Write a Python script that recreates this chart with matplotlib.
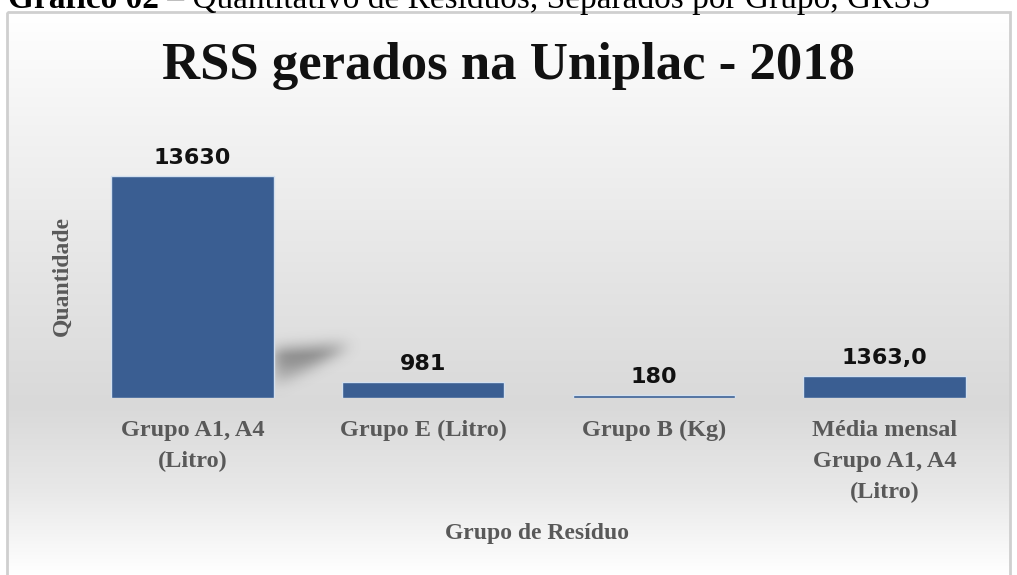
import numpy as np
import matplotlib
matplotlib.use("Agg")
import matplotlib.pyplot as plt
from matplotlib.patches import Rectangle
from matplotlib.path import Path
from matplotlib.colors import LinearSegmentedColormap

# dados do gráfico
grupos = ["Grupo A1, A4\n(Litro)", "Grupo E (Litro)", "Grupo B (Kg)",
          "Média mensal\nGrupo A1, A4\n(Litro)"]
quantidades = [13630, 981, 180, 1363.0]
rotulos = ["13630", "981", "180", "1363,0"]

serif = ["Liberation Serif", "DejaVu Serif"]
cinza = "#595959"
largura = 0.705

fig = plt.figure(figsize=(10.17, 5.75), dpi=100)

# fundo com degradê (estilo Excel)
bg = fig.add_axes([0, 0, 1, 1], zorder=0)
bg.set_xlim(0, 1017)
bg.set_ylim(575, 0)
bg.axis("off")
cmap_bg = LinearSegmentedColormap.from_list(
    "bg", [(0, "#ffffff"), (0.2, "#f3f3f3"), (0.5, "#e3e3e3"),
           (0.7, "#d9d9d9"), (0.85, "#e8e8e8"), (1, "#ffffff")])
grad = np.linspace(0, 1, 256).reshape(-1, 1)
bg.imshow(grad, cmap=cmap_bg, extent=(7, 1010, 575, 12), aspect="auto")
bg.add_patch(Rectangle((7, 12), 1003, 570, fill=False, edgecolor="#cfcfcf", lw=2))

# legenda do documento (cortada no topo)
t1 = fig.text(8 / 1017, 1 - 8 / 575, "Gráfico 02", family=serif, weight="bold",
              fontsize=24, va="baseline", ha="left")
r = fig.canvas.get_renderer()
bb = t1.get_window_extent(r)
fig.text(bb.x1 / 1017, 1 - 8 / 575,
         " – Quantitativo de Resíduos, Separados por Grupo, GRSS",
         family=serif, fontsize=24, va="baseline", ha="left")

ax = fig.add_axes([77 / 1017, 177 / 575, 923 / 1017, 277 / 575], zorder=1)
ax.patch.set_alpha(0)
x = np.arange(len(grupos))

# sombra suave atrás da primeira barra
xr = x[0] + largura / 2
gx = np.linspace(xr - 0.1, xr + 0.6, 160)
gy = np.linspace(-800, 4800, 90)
GX, GY = np.meshgrid(gx, gy)
tri = Path([(xr, 2950), (xr + 0.33, 3250), (xr, 400)])
mask = tri.contains_points(np.c_[GX.ravel(), GY.ravel()]).reshape(GX.shape).astype(float)
k = np.exp(-0.5 * (np.arange(-20, 21) / 7.0) ** 2)
k /= k.sum()
mask = np.apply_along_axis(lambda v: np.convolve(v, k, mode="same"), 1, mask)
mask = np.apply_along_axis(lambda v: np.convolve(v, k, mode="same"), 0, mask)
peso = np.clip(GY / 2600, 0.15, 1.0)
sombra = np.zeros(mask.shape + (4,))
sombra[..., :3] = 0.3
sombra[..., 3] = np.clip(mask * peso * 0.6, 0, 1)
ax.imshow(sombra, extent=(gx[0], gx[-1], gy[0], gy[-1]), origin="lower",
          aspect="auto", zorder=1, interpolation="bilinear")

ax.bar(x, quantidades, width=largura, color="#3a5e92", edgecolor="#d3e0ef",
       linewidth=1, zorder=2)
for xi, v, s in zip(x, quantidades, rotulos):
    ax.text(xi, v + 500, s, ha="center", va="bottom", fontsize=16,
            weight="bold", color="#111111", family="DejaVu Sans")

ax.set_xlim(-0.5, len(grupos) - 0.5)
ax.set_ylim(0, 17000)
ax.set_yticks([])
ax.set_xticks(x)
ax.set_xticklabels(grupos, family=serif, weight="bold", fontsize=17.5,
                   color=cinza, linespacing=1.6)
ax.tick_params(axis="x", length=0, pad=16)
for s in ax.spines.values():
    s.set_visible(False)

ax.set_xlabel("Grupo de Resíduo", family=serif, weight="bold", fontsize=17,
              color=cinza)
ax.xaxis.set_label_coords(0.498, -0.45)
ax.set_ylabel("Quantidade", family=serif, weight="bold", fontsize=17,
              color=cinza)
ax.yaxis.set_label_coords(-0.005, 0.44)

fig.text(509 / 1017, 1 - 66 / 575, "RSS gerados na Uniplac - 2018",
         family=serif, weight="bold", fontsize=38, ha="center", va="center",
         color="#111111")

fig.savefig("out.png", dpi=100)
